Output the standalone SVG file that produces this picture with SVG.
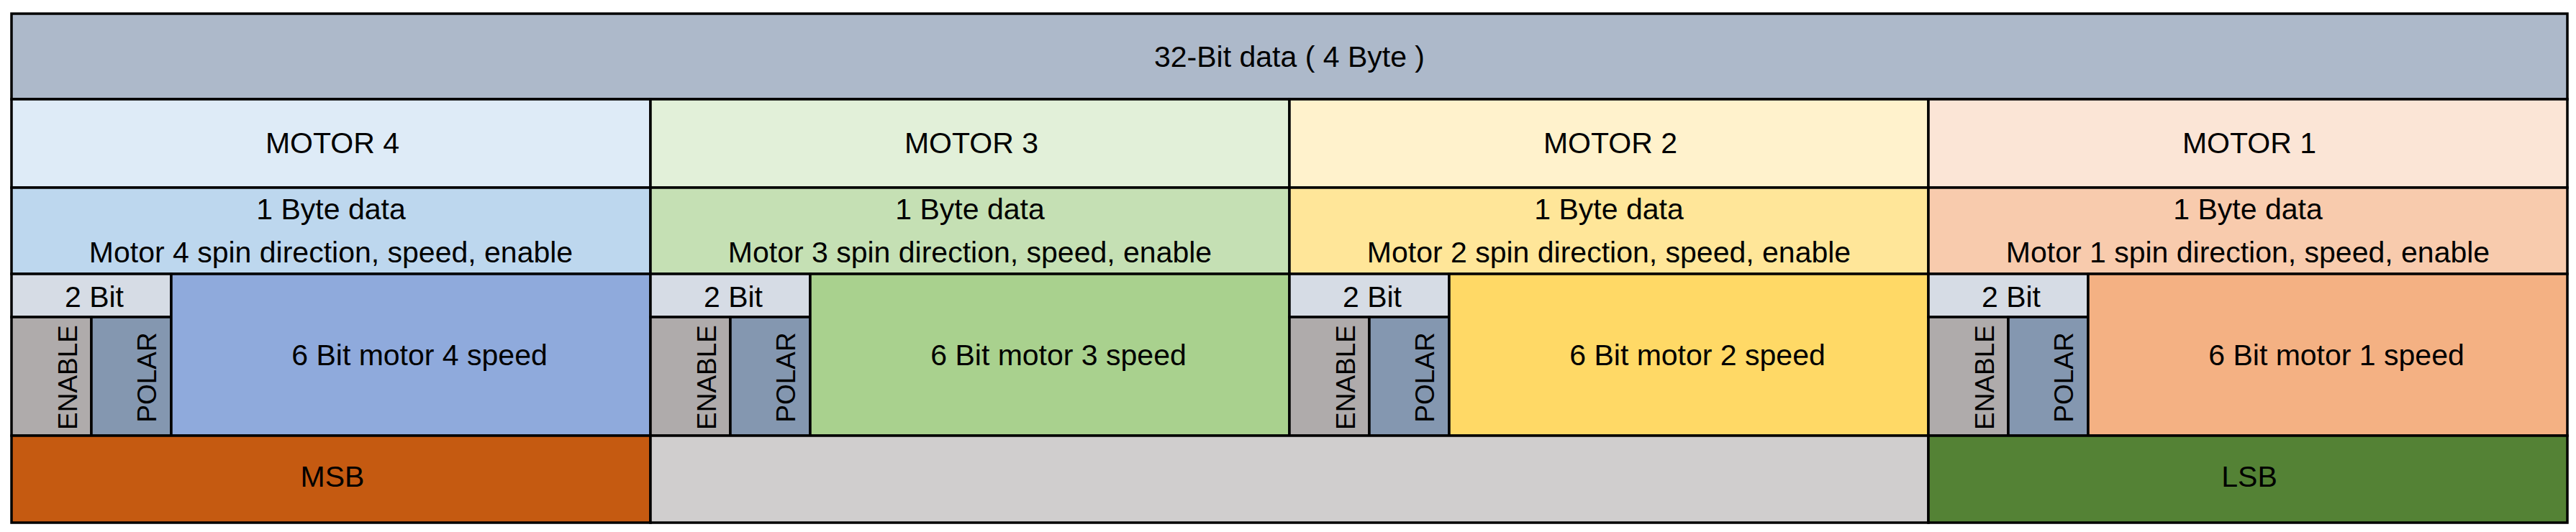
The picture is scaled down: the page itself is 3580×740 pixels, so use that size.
<svg xmlns="http://www.w3.org/2000/svg" width="3580" height="740" viewBox="0 0 3580 740">
<style>
rect{stroke:#000;stroke-width:3.5}
text{font-family:"Liberation Sans",Arial,sans-serif;font-size:41px;fill:#000;text-anchor:middle}
.v{font-size:37px}
.hdr{fill:#ADB9CA}
.bit2{fill:#D6DCE5}
.en{fill:#AFABAB}
.po{fill:#8497B0}
.m4a{fill:#DEEBF7}.m4b{fill:#BDD7EE}.m4c{fill:#8FAADC}
.m3a{fill:#E2F0D9}.m3b{fill:#C5E0B4}.m3c{fill:#A9D18E}
.m2a{fill:#FFF2CC}.m2b{fill:#FFE699}.m2c{fill:#FFD966}
.m1a{fill:#FBE5D6}.m1b{fill:#F8CBAD}.m1c{fill:#F4B183}
.msb{fill:#C55A11}.mid{fill:#D0CECE}.lsb{fill:#548235}
</style>
<rect width="3580" height="740" fill="#fff" style="stroke:none"/>
<g id="header"><rect class="hdr" x="16" y="19" width="3552" height="119"/><text x="1792" y="93">32-Bit data ( 4 Byte )</text></g>

<g id="motor4">
<rect class="m4a" x="16" y="138" width="888" height="123"/><text x="462" y="213">MOTOR 4</text>
<rect class="m4b" x="16" y="261" width="888" height="120"/><text x="460" y="305">1 Byte data</text><text x="460" y="365">Motor 4 spin direction, speed, enable</text>
<rect class="bit2" x="16" y="381" width="222" height="60"/><text x="131" y="427">2 Bit</text>
<rect class="en" x="16" y="441" width="111" height="165"/><text class="v" transform="translate(107,525) rotate(-90)">ENABLE</text>
<rect class="po" x="127" y="441" width="111" height="165"/><text class="v" transform="translate(217,525) rotate(-90)">POLAR</text>
<rect class="m4c" x="238" y="381" width="666" height="225"/><text x="583" y="508">6 Bit motor 4 speed</text>
</g>

<g id="motor3">
<rect class="m3a" x="904" y="138" width="888" height="123"/><text x="1350" y="213">MOTOR 3</text>
<rect class="m3b" x="904" y="261" width="888" height="120"/><text x="1348" y="305">1 Byte data</text><text x="1348" y="365">Motor 3 spin direction, speed, enable</text>
<rect class="bit2" x="904" y="381" width="222" height="60"/><text x="1019" y="427">2 Bit</text>
<rect class="en" x="904" y="441" width="111" height="165"/><text class="v" transform="translate(995,525) rotate(-90)">ENABLE</text>
<rect class="po" x="1015" y="441" width="111" height="165"/><text class="v" transform="translate(1105,525) rotate(-90)">POLAR</text>
<rect class="m3c" x="1126" y="381" width="666" height="225"/><text x="1471" y="508">6 Bit motor 3 speed</text>
</g>

<g id="motor2">
<rect class="m2a" x="1792" y="138" width="888" height="123"/><text x="2238" y="213">MOTOR 2</text>
<rect class="m2b" x="1792" y="261" width="888" height="120"/><text x="2236" y="305">1 Byte data</text><text x="2236" y="365">Motor 2 spin direction, speed, enable</text>
<rect class="bit2" x="1792" y="381" width="222" height="60"/><text x="1907" y="427">2 Bit</text>
<rect class="en" x="1792" y="441" width="111" height="165"/><text class="v" transform="translate(1883,525) rotate(-90)">ENABLE</text>
<rect class="po" x="1903" y="441" width="111" height="165"/><text class="v" transform="translate(1993,525) rotate(-90)">POLAR</text>
<rect class="m2c" x="2014" y="381" width="666" height="225"/><text x="2359" y="508">6 Bit motor 2 speed</text>
</g>

<g id="motor1">
<rect class="m1a" x="2680" y="138" width="888" height="123"/><text x="3126" y="213">MOTOR 1</text>
<rect class="m1b" x="2680" y="261" width="888" height="120"/><text x="3124" y="305">1 Byte data</text><text x="3124" y="365">Motor 1 spin direction, speed, enable</text>
<rect class="bit2" x="2680" y="381" width="222" height="60"/><text x="2795" y="427">2 Bit</text>
<rect class="en" x="2680" y="441" width="111" height="165"/><text class="v" transform="translate(2771,525) rotate(-90)">ENABLE</text>
<rect class="po" x="2791" y="441" width="111" height="165"/><text class="v" transform="translate(2881,525) rotate(-90)">POLAR</text>
<rect class="m1c" x="2902" y="381" width="666" height="225"/><text x="3247" y="508">6 Bit motor 1 speed</text>
</g>

<g id="msb"><rect class="msb" x="16" y="606" width="888" height="121"/><text x="462" y="677">MSB</text></g>
<g id="middle"><rect class="mid" x="904" y="606" width="1776" height="121"/></g>
<g id="lsb"><rect class="lsb" x="2680" y="606" width="888" height="121"/><text x="3126" y="677">LSB</text></g>
<g id="connectors"/>
</svg>
